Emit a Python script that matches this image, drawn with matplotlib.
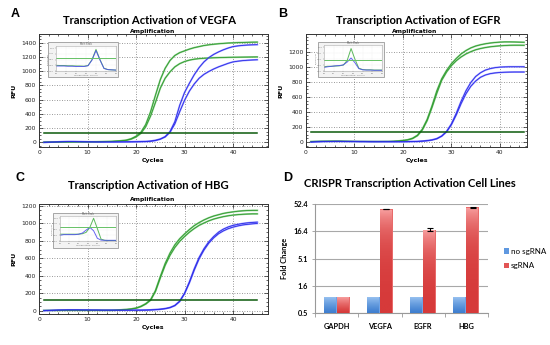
import numpy as np
import matplotlib
matplotlib.use("Agg")
import matplotlib.pyplot as plt
from matplotlib.ticker import MultipleLocator, NullFormatter
from matplotlib.patches import Rectangle, Patch
from matplotlib.colors import LinearSegmentedColormap

W, H = 550, 345

cycles = list(range(1, 46))

# amplification curves (RFU per cycle)
vegfa_green_1 = [2, 3, 3, 4, 4, 4, 5, 5, 5, 6, 6, 7, 8, 10, 13, 17, 22, 30, 50, 85,
                 140, 250, 430, 660, 880, 1040, 1150, 1220, 1260, 1285, 1310, 1330, 1345,
                 1360, 1370, 1378, 1385, 1390, 1395, 1398, 1401, 1403, 1405, 1407, 1408]
vegfa_green_2 = [2, 3, 3, 3, 4, 4, 4, 5, 5, 5, 6, 7, 8, 10, 12, 16, 21, 28, 45, 75,
                 125, 220, 370, 560, 760, 900, 990, 1060, 1105, 1135, 1155, 1168, 1176,
                 1181, 1185, 1188, 1190, 1192, 1194, 1195, 1196, 1197, 1198, 1199, 1200]
vegfa_blue_1 = [0, 2, 4, 6, 8, 10, 10, 9, 8, 7, 6, 5, 5, 5, 5, 6, 6, 7, 7, 8,
                9, 10, 15, 25, 45, 80, 150, 290, 520, 700, 830, 950, 1050, 1130, 1190,
                1235, 1270, 1300, 1325, 1345, 1355, 1362, 1367, 1370, 1372]
vegfa_blue_2 = [0, 2, 4, 6, 8, 9, 9, 8, 7, 6, 6, 5, 5, 5, 5, 5, 6, 6, 7, 8,
                9, 12, 17, 28, 45, 75, 140, 260, 430, 590, 720, 820, 900, 955, 995,
                1030, 1060, 1085, 1110, 1130, 1140, 1148, 1153, 1157, 1160]

egfr_green_1 = [5, 8, 10, 11, 12, 12, 12, 11, 10, 9, 8, 7, 6, 6, 6, 7, 8, 10, 14, 20,
                30, 50, 90, 170, 300, 480, 680, 840, 950, 1040, 1110, 1170, 1215, 1250,
                1275, 1292, 1305, 1315, 1322, 1327, 1330, 1330, 1329, 1327, 1325]
egfr_green_2 = [4, 7, 9, 10, 11, 11, 11, 10, 9, 8, 7, 6, 6, 5, 5, 6, 7, 9, 13, 19,
                28, 47, 85, 160, 285, 460, 650, 820, 930, 1015, 1080, 1130, 1170, 1200,
                1225, 1242, 1255, 1265, 1272, 1278, 1282, 1285, 1286, 1286, 1285]
egfr_blue_1 = [0, 3, 5, 7, 8, 9, 9, 8, 7, 6, 5, 5, 4, 4, 4, 4, 4, 4, 4, 4,
               5, 6, 8, 12, 18, 28, 45, 80, 140, 240, 380, 540, 680, 790, 870,
               920, 955, 975, 988, 995, 998, 1000, 1000, 1000, 1000]
egfr_blue_2 = [0, 3, 5, 7, 8, 9, 9, 8, 7, 6, 5, 5, 4, 4, 4, 4, 4, 4, 4, 4,
               5, 6, 8, 12, 18, 27, 44, 78, 135, 230, 360, 510, 640, 740, 810,
               860, 890, 908, 918, 924, 927, 929, 930, 930, 930]

hbg_green_1 = [3, 4, 4, 5, 5, 5, 5, 5, 5, 5, 5, 5, 5, 5, 5, 7, 10, 14, 20, 30,
               50, 80, 125, 230, 390, 540, 660, 755, 825, 880, 930, 975, 1010, 1040,
               1065, 1085, 1100, 1115, 1125, 1133, 1140, 1145, 1148, 1150, 1150]
hbg_green_2 = [3, 4, 4, 4, 5, 5, 5, 5, 5, 5, 5, 5, 5, 5, 5, 7, 9, 13, 19, 28,
               47, 76, 120, 220, 375, 520, 635, 725, 795, 850, 900, 942, 978, 1005,
               1030, 1050, 1065, 1078, 1088, 1096, 1101, 1105, 1108, 1110, 1110]
hbg_blue_1 = [0, 3, 5, 7, 8, 9, 9, 9, 8, 8, 7, 7, 6, 6, 6, 6, 6, 6, 6, 6,
              6, 7, 9, 12, 17, 24, 36, 60, 110, 200, 330, 480, 610, 710, 790,
              850, 900, 935, 960, 978, 990, 1000, 1007, 1012, 1015]
hbg_blue_2 = [0, 3, 5, 7, 8, 9, 9, 9, 8, 8, 7, 7, 6, 6, 6, 6, 6, 6, 6, 6,
              6, 7, 9, 12, 16, 23, 35, 58, 105, 195, 320, 465, 595, 695, 775,
              835, 882, 915, 940, 958, 972, 983, 990, 996, 1000]

thresholds = [127, 129, 123]

# melt peak insets (-dRFU/dT, relative)
melt_temp = [65, 67, 69, 71, 73, 75, 77, 79, 81, 83, 85, 87, 89, 91, 93, 95]
vegfa_melt_green = [0.25, 0.24, 0.24, 0.23, 0.23, 0.22, 0.22, 0.21, 0.24, 0.5, 0.95, 0.5, 0.12, 0.06, 0.05, 0.04]
vegfa_melt_blue = [0.22, 0.22, 0.22, 0.21, 0.21, 0.2, 0.2, 0.2, 0.23, 0.48, 0.9, 0.48, 0.11, 0.06, 0.05, 0.04]
egfr_melt_green = [0.18, 0.2, 0.2, 0.21, 0.22, 0.25, 0.45, 0.95, 0.5, 0.12, 0.06, 0.05, 0.05, 0.04, 0.04, 0.04]
egfr_melt_blue = [0.15, 0.18, 0.2, 0.22, 0.23, 0.26, 0.38, 0.55, 0.35, 0.1, 0.05, 0.04, 0.04, 0.03, 0.03, 0.03]
hbg_melt_green = [0.3, 0.3, 0.3, 0.3, 0.3, 0.3, 0.32, 0.38, 0.6, 1.0, 0.55, 0.08, 0.03, 0.02, 0.02, 0.02]
hbg_melt_blue = [0.25, 0.28, 0.28, 0.28, 0.28, 0.3, 0.35, 0.48, 0.6, 0.45, 0.12, 0.04, 0.03, 0.03, 0.03, 0.03]
melt_thresholds = [0.58, 0.45, 0.62]

# fold change bar chart
genes = ["GAPDH", "VEGFA", "EGFR", "HBG"]
no_sgrna = [1.0, 1.0, 1.0, 1.0]
sgrna = [1.0, 42.3, 17.6, 45.6]
sgrna_err = [0.0, 0.8, 1.2, 0.5]
fold_ticks = [0.5, 1.6, 5.12, 16.38, 52.43]
fold_labels = ["0.5", "1.6", "5.1", "16.4", "52.4"]

GREEN, GREEN_LT = "#2f9a2f", "#92d292"
BLUE, BLUE_LT = "#2a2ae8", "#a0a0ff"
THRESH = "#0b5a0b"
TITLE_FONT = "Lato"
BASE = 0.5


def fig_rect(x0, y0, x1, y1):
    return [x0 / W, 1 - y1 / H, (x1 - x0) / W, (y1 - y0) / H]


def ftext(x, y, s, **kw):
    fig.text(x / W, 1 - y / H, s, **kw)


def amp_panel(rect, ylim, ymax_tick, xmax, greens, blues, thr):
    ax = fig.add_axes(rect)
    for c in greens:
        ax.plot(cycles, c, color=GREEN_LT, lw=1.3, zorder=2)
        ax.plot(cycles, c, color=GREEN, lw=0.6, zorder=3)
    for c in blues:
        ax.plot(cycles, c, color=BLUE_LT, lw=1.3, zorder=2)
        ax.plot(cycles, c, color=BLUE, lw=0.6, zorder=3)
    ax.plot([1, 45], [thr, thr], color=THRESH, lw=1.1, zorder=4)
    ax.set_xlim(0, xmax)
    ax.set_ylim(*ylim)
    ax.set_xticks([0, 10, 20, 30, 40])
    ax.set_yticks(list(range(0, ymax_tick + 1, 200)))
    ax.xaxis.set_minor_locator(MultipleLocator(2))
    ax.yaxis.set_minor_locator(MultipleLocator(50))
    ax.tick_params(which="both", direction="in", top=True, right=True,
                   labelsize=4.3, pad=2, width=0.5, colors="#222222")
    ax.tick_params(which="major", length=3)
    ax.tick_params(which="minor", length=1.5)
    ax.grid(True, which="major", color="#777777", lw=0.6, ls=(0, (1, 2)))
    for s in ax.spines.values():
        s.set_linewidth(0.7)
        s.set_color("#333333")
        s.set_linestyle((0, (2, 1)))
    ax.set_xlabel("Cycles", fontsize=4.5, fontweight="bold", labelpad=2)
    ax.set_ylabel("RFU", fontsize=4.5, fontweight="bold", labelpad=3)
    return ax


def melt_inset(outer, inner, green, blue, thr):
    fig.patches.append(Rectangle((outer[0], outer[1]), outer[2], outer[3],
                                 transform=fig.transFigure, facecolor="#f3f3f3",
                                 edgecolor="#999999", lw=0.6, zorder=2))
    ax = fig.add_axes(inner, zorder=3)
    ax.plot(melt_temp, green, color="#5cb85c", lw=0.7)
    ax.plot(melt_temp, blue, color="#4a4af0", lw=0.7, alpha=0.85)
    ax.axhline(thr, color="#66c266", lw=0.7)
    ax.set_xlim(65, 95)
    ax.set_ylim(0, 1.1)
    ax.grid(True, color="#dddddd", lw=0.3, ls=":")
    ax.tick_params(labelsize=1.6, length=0.8, width=0.3, pad=0.5, colors="#777777")
    ax.set_xticks([65, 70, 75, 80, 85, 90, 95])
    ax.set_yticks([0, 0.25, 0.5, 0.75, 1.0])
    for s in ax.spines.values():
        s.set_linewidth(0.4)
        s.set_color("#aaaaaa")
    ax.set_title("Melt Peak", fontsize=1.8, pad=1, color="#555555")
    ax.set_xlabel("Temperature, Celsius", fontsize=1.6, labelpad=0.5, color="#777777")
    ax.set_ylabel("-d(RFU)/dT", fontsize=1.6, labelpad=0.5, color="#777777")


fig = plt.figure(figsize=(W / 100, H / 100), dpi=100)
fig.patch.set_facecolor("white")

# panel A
amp_panel(fig_rect(39, 34, 268, 147), (-66, 1522), 1400, 47.2,
          [vegfa_green_1, vegfa_green_2], [vegfa_blue_1, vegfa_blue_2], thresholds[0])
melt_inset(fig_rect(48, 42, 118, 77), fig_rect(56, 46, 116, 71),
           vegfa_melt_green, vegfa_melt_blue, melt_thresholds[0])
ftext(11, 14, "A", fontsize=9, fontweight="bold", family="Liberation Sans", va="center")
ftext(150, 21, "Transcription Activation of VEGFA", fontsize=8.1, fontweight="bold",
      family=TITLE_FONT, ha="center", va="center")
ftext(153, 31.5, "Amplification", fontsize=4.3, fontweight="bold", ha="center", va="center")

# panel B
amp_panel(fig_rect(306, 34, 527, 147), (-66, 1435), 1200, 45.6,
          [egfr_green_1, egfr_green_2], [egfr_blue_1, egfr_blue_2], thresholds[1])
melt_inset(fig_rect(318, 42, 384, 77), fig_rect(324, 45, 382, 71),
           egfr_melt_green, egfr_melt_blue, melt_thresholds[1])
ftext(278, 14, "B", fontsize=9, fontweight="bold", family="Liberation Sans", va="center")
ftext(418, 21, "Transcription Activation of EGFR", fontsize=8.1, fontweight="bold",
      family=TITLE_FONT, ha="center", va="center")
ftext(415, 31.5, "Amplification", fontsize=4.3, fontweight="bold", ha="center", va="center")

# panel C
amp_panel(fig_rect(39, 204, 268, 314), (-38, 1223), 1200, 47.2,
          [hbg_green_1, hbg_green_2], [hbg_blue_1, hbg_blue_2], thresholds[2])
melt_inset(fig_rect(53, 213, 118, 248), fig_rect(60, 216, 116, 241),
           hbg_melt_green, hbg_melt_blue, melt_thresholds[2])
ftext(16, 178, "C", fontsize=9, fontweight="bold", family="Liberation Sans", va="center")
ftext(148, 185, "Transcription Activation of HBG", fontsize=8.1, fontweight="bold",
      family=TITLE_FONT, ha="center", va="center")
ftext(153, 199, "Amplification", fontsize=4.3, fontweight="bold", ha="center", va="center")

# panel D
axd = fig.add_axes(fig_rect(315, 204, 488, 313))
x = np.arange(len(genes))
bw = 0.3
blue_cmap = LinearSegmentedColormap.from_list("b", ["#3f7fd0", "#9cc5f2"])
red_cmap = LinearSegmentedColormap.from_list("r", ["#d63a3a", "#f9a3a3"])
grad = np.linspace(0, 1, 64).reshape(-1, 1)
for xs, vals, cmap, base in [(x - bw / 2, no_sgrna, blue_cmap, "#6fa3e6"),
                             (x + bw / 2, sgrna, red_cmap, "#e86a6a")]:
    heights = [v - BASE for v in vals]
    bars = axd.bar(xs, heights, width=bw, bottom=BASE, color=base, zorder=2)
    for b, v in zip(bars, vals):
        x0 = b.get_x()
        im = axd.imshow(grad, cmap=cmap, aspect="auto", origin="lower",
                        extent=(x0, x0 + b.get_width(), BASE, v), zorder=3)
        im.set_clip_path(b)
axd.errorbar(x[1:] + bw / 2, sgrna[1:], yerr=sgrna_err[1:], fmt="none",
             ecolor="black", elinewidth=0.8, capsize=2, capthick=0.8, zorder=4)
axd.set_yscale("log")
axd.set_ylim(0.5, 52.43)
axd.set_xlim(-0.5, len(genes) - 0.5)
axd.set_yticks(fold_ticks)
axd.set_yticklabels(fold_labels)
axd.yaxis.set_minor_formatter(NullFormatter())
axd.tick_params(axis="y", which="minor", length=0)
axd.set_xticks(x)
axd.set_xticklabels(genes)
axd.set_xticks(np.arange(-0.5, len(genes)), minor=True)
axd.tick_params(axis="x", which="major", length=0, pad=7)
axd.tick_params(axis="x", which="minor", length=3, width=0.6, color="#999999")
axd.tick_params(axis="y", which="major", length=2, width=0.6, color="#999999", pad=3)
for lbl in axd.get_xticklabels() + axd.get_yticklabels():
    lbl.set_family(TITLE_FONT)
    lbl.set_fontweight("bold")
    lbl.set_fontsize(5.3)
axd.grid(True, axis="y", which="major", color="#a8a8a8", lw=0.8, zorder=0)
axd.set_axisbelow(True)
for side in ["top", "right"]:
    axd.spines[side].set_visible(False)
for side in ["left", "bottom"]:
    axd.spines[side].set_color("#999999")
    axd.spines[side].set_linewidth(0.8)
axd.set_ylabel("Fold Change", fontsize=5.3, fontweight="bold", family=TITLE_FONT, labelpad=4)
axd.legend(handles=[Patch(facecolor="#5f98e0", label="no sgRNA"),
                    Patch(facecolor="#e25555", label="sgRNA")],
           loc="center left", bbox_to_anchor=(1.05, 0.5), frameon=False,
           handlelength=0.6, handleheight=0.6, handletextpad=0.3, labelspacing=0.9,
           prop={"family": TITLE_FONT, "size": 5.8})
ftext(283, 178, "D", fontsize=9, fontweight="bold", family="Liberation Sans", va="center")
ftext(410, 183, "CRISPR Transcription Activation Cell Lines", fontsize=8.1, fontweight="bold",
      family=TITLE_FONT, ha="center", va="center")

fig.savefig("out.png", dpi=100, facecolor="white")
